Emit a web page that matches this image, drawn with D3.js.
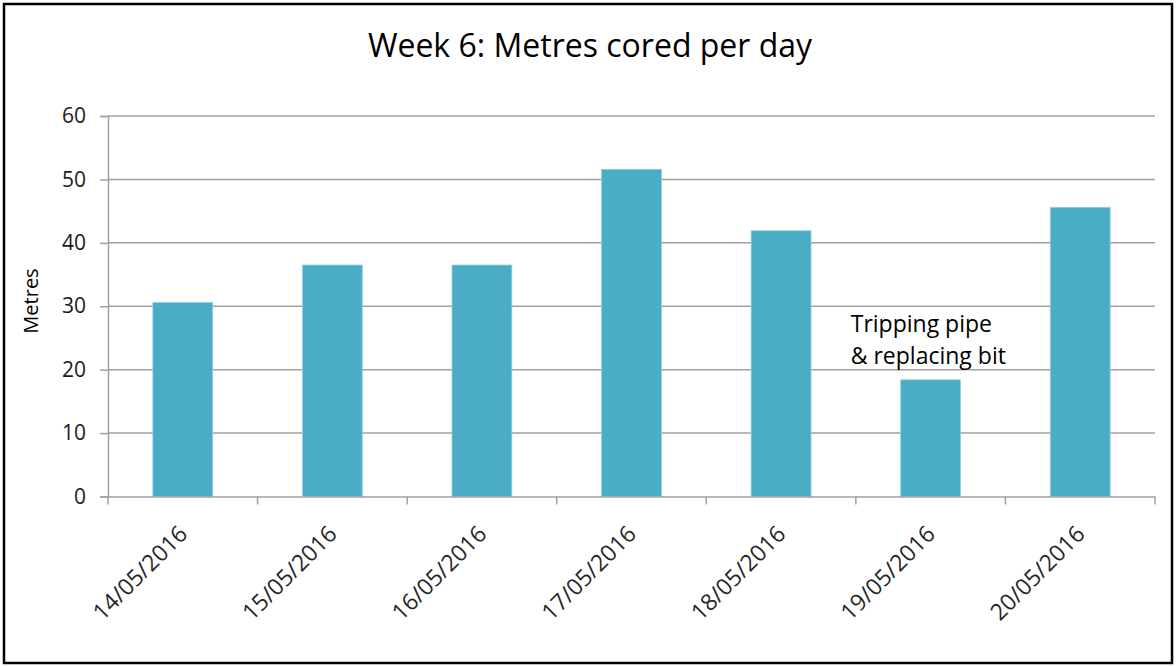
<!DOCTYPE html>
<html>
<head>
<meta charset="utf-8">
<script src="https://cdn.jsdelivr.net/npm/d3@7"></script>
<style>
  body { margin: 0; background: #fff; }
  svg { display: block; }
</style>
</head>
<body>
<script>
// data
const days = ['14/05/2016', '15/05/2016', '16/05/2016', '17/05/2016', '18/05/2016', '19/05/2016', '20/05/2016']
const metres = [30.6, 36.5, 36.5, 51.6, 41.9, 18.4, 45.6]
const yTicks = [0, 10, 20, 30, 40, 50, 60]
const note = ['Tripping pipe', '& replacing bit']
const noteDay = '19/05/2016'

width = 1176
height = 666
margin = {top: 116, bottom: 170, left: 108, right: 21}
barColor = '#4bacc6'
gridColor = '#a0a0a0'
font = '"Open Sans", "DejaVu Sans", sans-serif'

const svg = d3.select('body').append('svg')
  .attr('width', width)
  .attr('height', height)

// frame round the whole chart
svg.append('rect')
  .attr('x', 4).attr('y', 4)
  .attr('width', width - 8).attr('height', height - 7)
  .attr('fill', 'white')
  .attr('stroke', 'black')
  .attr('stroke-width', 2.5)

x = d3.scaleBand().domain(days)
  .range([margin.left, width - margin.right])
  .paddingInner(0.6).paddingOuter(0.3)
y = d3.scaleLinear().domain([0, 60]).range([height - margin.bottom + 0.5, margin.top])

// gridlines + y axis
const yAxis = d3.axisLeft(y).tickValues(yTicks).tickSize(8).tickPadding(14)
svg.append('g')
  .attr('transform', `translate(${margin.left}, 0)`)
  .call(yAxis)
  .call(g => g.select('.domain').attr('stroke', gridColor).attr('stroke-width', 1.5))
  .call(g => g.selectAll('.tick line').attr('stroke', gridColor).attr('stroke-width', 1.5))
  .call(g => g.selectAll('.tick text')
    .attr('fill', '#1a1a1a').attr('font-family', font).attr('font-size', 21))

svg.append('g')
  .selectAll('line').data(yTicks.filter(d => d > 0)).join('line')
  .attr('x1', margin.left).attr('x2', width - margin.right)
  .attr('y1', d => y(d)).attr('y2', d => y(d))
  .attr('stroke', gridColor).attr('stroke-width', 1.5)

// bars
svg.append('g')
  .selectAll('rect').data(days).join('rect')
  .attr('x', d => x(d))
  .attr('y', (d, i) => y(metres[i]))
  .attr('width', x.bandwidth())
  .attr('height', (d, i) => y(0) - y(metres[i]))
  .attr('fill', barColor)
  .attr('stroke', '#8fd0e0')
  .attr('stroke-width', 0.8)

// x axis: ticks sit between the days
const xAxis = d3.axisBottom(x).tickSize(0).tickFormat('')
const xg = svg.append('g')
  .attr('transform', `translate(0, ${y(0)})`)
  .call(xAxis)
xg.select('.domain').attr('stroke', gridColor).attr('stroke-width', 1.5)
xg.selectAll('.sep').data(d3.range(days.length + 1)).join('line')
  .attr('class', 'sep')
  .attr('x1', i => margin.left + i * x.step()).attr('x2', i => margin.left + i * x.step())
  .attr('y1', 0).attr('y2', 8)
  .attr('stroke', gridColor).attr('stroke-width', 1.5)
xg.selectAll('.lbl').data(days).join('text')
  .attr('class', 'lbl')
  .attr('transform', d => `translate(${x(d) + x.bandwidth() / 2 + 6}, 39) rotate(-45)`)
  .attr('text-anchor', 'end')
  .attr('fill', '#262626')
  .attr('font-family', font)
  .attr('font-size', 23)
  .text(d => d)

// y axis title
svg.append('text')
  .attr('transform', `translate(38, 301) rotate(-90)`)
  .attr('text-anchor', 'middle')
  .attr('font-family', font)
  .attr('font-size', 20)
  .attr('fill', 'black')
  .text('Metres')

// chart title
svg.append('text')
  .attr('x', 590).attr('y', 57)
  .attr('text-anchor', 'middle')
  .attr('font-family', font)
  .attr('font-size', 32)
  .attr('fill', 'black')
  .text('Week 6: Metres cored per day')

// annotation above the short day
svg.append('g')
  .selectAll('text').data(note).join('text')
  .attr('x', x(noteDay) - 50)
  .attr('y', (d, i) => 332 + i * 32)
  .attr('font-family', font)
  .attr('font-size', 23)
  .attr('fill', 'black')
  .text(d => d)
</script>
</body>
</html>
